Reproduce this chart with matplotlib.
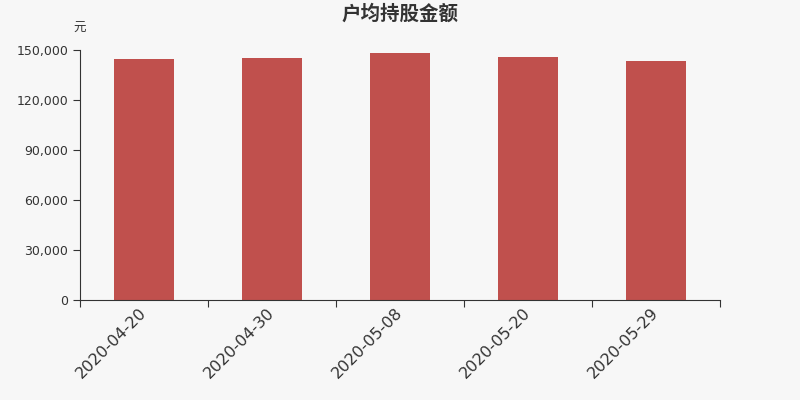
import matplotlib
matplotlib.use("Agg")
import matplotlib.pyplot as plt
import matplotlib.transforms as mtransforms
from matplotlib.ticker import FuncFormatter

plt.rcParams["font.family"] = ["DejaVu Sans", "Noto Sans CJK SC"]

dates = ["2020-04-20", "2020-04-30", "2020-05-08", "2020-05-20", "2020-05-29"]
amount = [144600, 145400, 148200, 146000, 143600]
yticks = [0, 30000, 60000, 90000, 120000, 150000]

BG = "#f7f7f7"; BAR = "#c0504d"; TXT = "#333333"

fig = plt.figure(figsize=(8, 4), dpi=100, facecolor=BG)
ax = fig.add_axes([0.1, 0.25, 0.8, 0.625], facecolor=BG)

x = range(len(dates))
ax.bar(x, amount, width=0.47, color=BAR)
ax.set_xlim(-0.5, len(dates) - 0.5)
ax.set_ylim(0, 150000)
ax.set_yticks(yticks)
ax.yaxis.set_major_formatter(FuncFormatter(lambda v, p: f"{int(v):,}"))
ax.set_xticks([i - 0.5 for i in range(len(dates) + 1)])
ax.set_xticklabels([])
ax.set_xticks(list(x), minor=True)
ax.set_xticklabels(dates, minor=True, rotation=45, ha="right", rotation_mode="anchor",
                   fontsize=11.5, color=TXT)
ax.tick_params(axis="x", which="minor", length=0, pad=5)
ax.tick_params(axis="x", which="major", length=5, color=TXT)
ax.tick_params(axis="y", length=5, color=TXT, labelsize=9, labelcolor=TXT)
shift = mtransforms.ScaledTranslation(-5 / 100, 2 / 100, fig.dpi_scale_trans)
for lab in ax.get_xticklabels(minor=True):
    lab.set_transform(lab.get_transform() + shift)
for s in ["top", "right"]:
    ax.spines[s].set_visible(False)
ax.spines["left"].set_color(TXT)
ax.spines["bottom"].set_color(TXT)

fig.text(0.5, 0.965, "户均持股金额", ha="center", va="center", fontsize=14,
         fontweight="bold", color=TXT, family=["Noto Sans CJK SC"])
fig.text(0.099, 0.93, "元", ha="center", va="center", fontsize=9, color=TXT,
         family=["Noto Sans CJK SC"])

fig.savefig("out.png", dpi=100, facecolor=BG)
